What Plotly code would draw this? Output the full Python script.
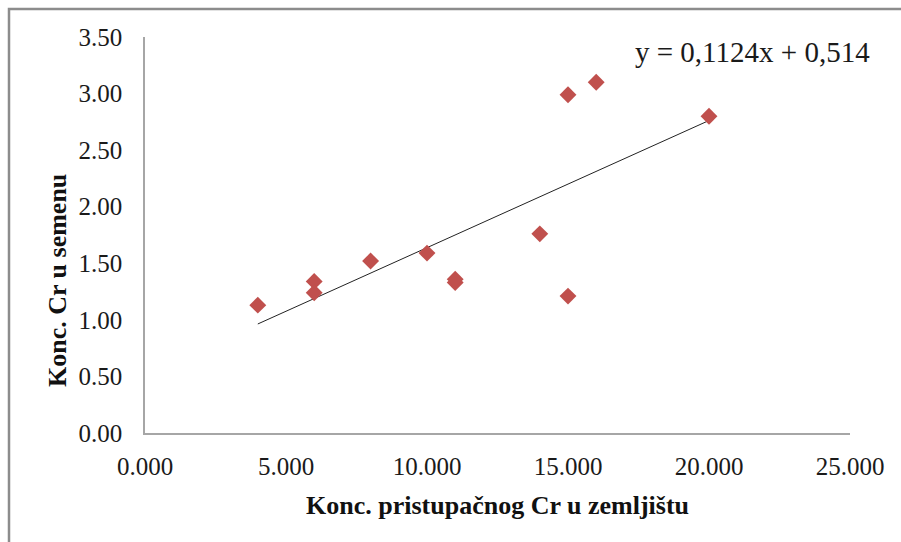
import plotly.graph_objects as go
import numpy as np

# data
soil_cr = [4.0, 6.0, 6.0, 8.0, 10.0, 11.0, 11.0, 14.0, 15.0, 15.0, 16.0, 20.0]
seed_cr = [1.13, 1.34, 1.24, 1.52, 1.59, 1.33, 1.36, 1.76, 1.21, 2.99, 3.10, 2.80]
slope = 0.1124
intercept = 0.514
equation_text = "y = 0,1124x + 0,514"
x_title = "Konc. pristupačnog Cr u zemljištu"
y_title = "Konc. Cr u semenu"

W, H = 901, 542
ML, MR, MT, MB = 145, 51, 37, 109
pw = W - ML - MR
ph = H - MT - MB

def px_to_paper_x(px):
    return (px - ML) / pw

def px_to_paper_y(py):
    return (H - MB - py) / ph

xfit = np.array([min(soil_cr), max(soil_cr)])
yfit = slope * xfit + intercept

font_family = "Liberation Serif, Times New Roman, serif"

fig = go.Figure()
fig.add_trace(go.Scatter(
    x=xfit, y=yfit, mode="lines",
    line=dict(color="#222222", width=1),
    hoverinfo="skip", showlegend=False))
fig.add_trace(go.Scatter(
    x=soil_cr, y=seed_cr, mode="markers",
    marker=dict(symbol="diamond", size=13, color="#C0504D", line=dict(width=0)),
    showlegend=False))

fig.update_layout(
    width=W, height=H,
    margin=dict(l=ML, r=MR, t=MT, b=MB),
    paper_bgcolor="white", plot_bgcolor="white",
    font=dict(family=font_family, color="#1a1a1a", size=25),
    xaxis=dict(range=[0, 25], tick0=0, dtick=5, tickformat=".3f",
               showgrid=False, zeroline=False, showline=True,
               linecolor="#a6a6a6", linewidth=1.5, ticks="outside",
               ticklen=10, tickcolor="rgba(0,0,0,0)",
               tickfont=dict(size=25, family=font_family)),
    yaxis=dict(range=[0, 3.5], tick0=0, dtick=0.5, tickformat=".2f",
               showgrid=False, zeroline=False, showline=True,
               linecolor="#a6a6a6", linewidth=1.5, ticks="outside",
               ticklen=16, tickcolor="rgba(0,0,0,0)",
               tickfont=dict(size=25, family=font_family)),
    shapes=[dict(type="rect", xref="paper", yref="paper",
                 x0=px_to_paper_x(9), x1=px_to_paper_x(W + 10),
                 y0=px_to_paper_y(H + 10), y1=px_to_paper_y(9),
                 line=dict(color="#8c8c8c", width=2.5), fillcolor="rgba(0,0,0,0)",
                 layer="below")],
    annotations=[
        dict(text=equation_text, xref="paper", yref="paper",
             x=px_to_paper_x(752), y=px_to_paper_y(52),
             xanchor="center", yanchor="middle", showarrow=False,
             font=dict(size=29, family=font_family, color="#1a1a1a")),
        dict(text="<b>" + x_title + "</b>", xref="paper", yref="paper",
             x=px_to_paper_x(497), y=px_to_paper_y(505),
             xanchor="center", yanchor="middle", showarrow=False,
             font=dict(size=26, family=font_family, color="#111111")),
        dict(text="<b>" + y_title + "</b>", xref="paper", yref="paper",
             x=px_to_paper_x(57), y=px_to_paper_y(281),
             xanchor="center", yanchor="middle", showarrow=False, textangle=-90,
             font=dict(size=26, family=font_family, color="#111111")),
    ],
)
fig.write_html("out.html")
